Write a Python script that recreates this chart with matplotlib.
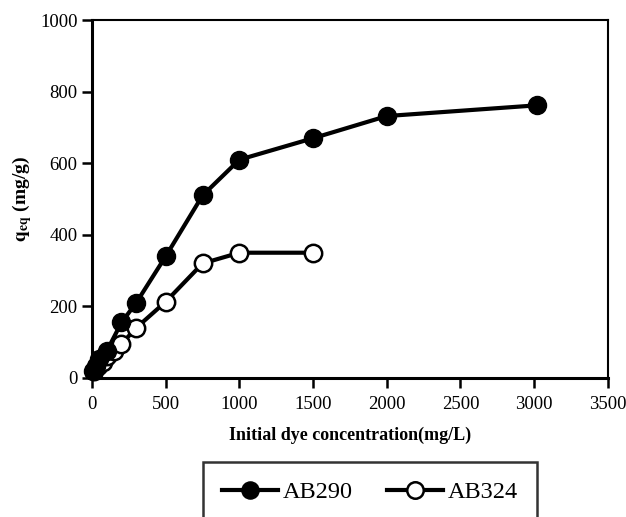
import matplotlib
matplotlib.use('Agg')
import matplotlib.pyplot as plt

plt.rcParams['font.family'] = ['Liberation Serif', 'DejaVu Serif']
plt.rcParams['mathtext.fontset'] = 'stix'

# 初始浓度 (mg/L) 与平衡吸附量 (mg/g)
conc_ab290 = [10, 25, 50, 100, 200, 300, 500, 750, 1000, 1500, 2000, 3020]
qeq_ab290 = [20, 32, 52, 75, 155, 210, 340, 510, 610, 670, 732, 762]

conc_ab324 = [15, 40, 75, 100, 150, 200, 300, 500, 750, 1000, 1500]
qeq_ab324 = [20, 32, 45, 60, 75, 95, 140, 213, 320, 350, 350]

fig = plt.figure(figsize=(6.26, 5.17), dpi=100)
ax = fig.add_axes([0.147, 0.269, 0.824, 0.692])

ax.plot(conc_ab290, qeq_ab290, color='k', lw=3, marker='o', ms=13,
        mfc='k', mec='k', label='AB290', zorder=3, clip_on=False)
ax.plot(conc_ab324, qeq_ab324, color='k', lw=3, marker='o', ms=12.5,
        mfc='white', mec='k', mew=1.8, label='AB324', zorder=2, clip_on=False)

ax.set_xlim(0, 3500)
ax.set_ylim(0, 1000)
ax.set_xticks(range(0, 3501, 500))
ax.set_yticks(range(0, 1001, 200))
ax.tick_params(direction='out', length=7, width=1.8, labelsize=13.5)
ax.tick_params(axis='x', pad=6)

for s in ['left', 'bottom']:
    ax.spines[s].set_linewidth(2.2)
for s in ['top', 'right']:
    ax.spines[s].set_linewidth(1.5)

ax.set_xlabel('Initial dye concentration(mg/L)', fontsize=13, fontweight='bold',
              labelpad=10)
ax.set_ylabel(r'$\mathbf{q}_{\mathbf{eq}}$ (mg/g)', fontsize=14, fontweight='bold')

leg = fig.legend(loc='upper center', bbox_to_anchor=(370 / 626, 1 - 462 / 517),
                 borderaxespad=0, ncol=2, fontsize=17.5, handlelength=2.3,
                 handletextpad=0.2, columnspacing=1.4, borderpad=0.8,
                 frameon=True, fancybox=False, markerscale=0.95)
leg.get_frame().set_edgecolor('k')
leg.get_frame().set_linewidth(1.8)

plt.savefig('out.png', dpi=100)
